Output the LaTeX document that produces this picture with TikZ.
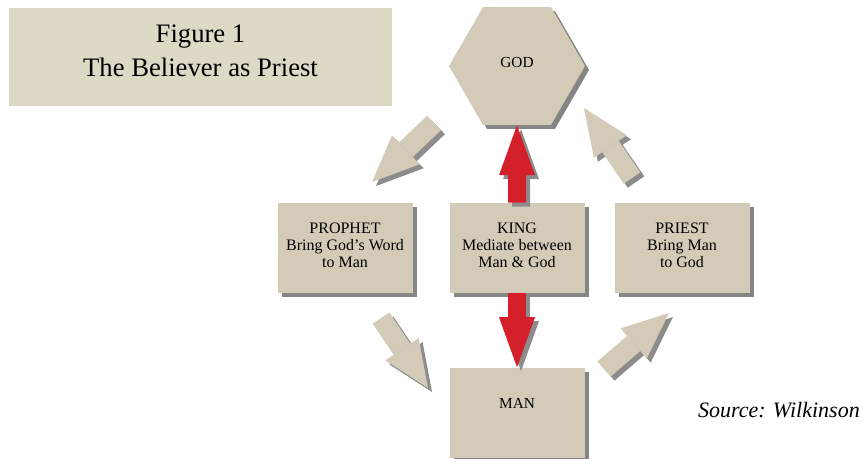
\documentclass[tikz,border=0pt]{standalone}
\usepackage{fontspec}
\setmainfont{Liberation Serif}
\usetikzlibrary{shapes.geometric,shadows,arrows.meta}

\definecolor{boxtan}{RGB}{211,203,184}
\definecolor{titletan}{RGB}{221,217,197}
\definecolor{arrowred}{RGB}{211,32,42}

\begin{document}
\begin{tikzpicture}[x=0.75pt,y=0.75pt,yscale=-1,xscale=1,
	office/.style={fill=boxtan, minimum width=101.25pt, minimum height=67.5pt, inner sep=0pt, align=center, text depth=4pt, font=\fontsize{12}{12.75}\selectfont, drop shadow={shadow xshift=3pt, shadow yshift=-3pt, opacity=0.6, fill=black!80}},
	tanarrow/.style={draw=boxtan, line width=15pt, -{Triangle[length=35pt, width=30pt, line width=0pt]}},
	kingarrow/.style={draw=arrowred, line width=13.5pt, -{Triangle[length=37.5pt, width=27pt, line width=0pt]}},
	shadowarrow/.style={draw=black!45}
	]
	\useasboundingbox (0,0) rectangle (866,458);

	% Title
	\node (title) [fill=titletan, minimum width=287.25pt, minimum height=73.5pt, inner sep=0pt, align=center, text depth=9pt, font=\fontsize{20}{25.5}\selectfont] at (200.5,57) {Figure 1\\The Believer as Priest};
	% Text Node
	\node (god) [office, regular polygon, regular polygon sides=6, minimum size=102pt, text depth=6pt, font=\fontsize{11.5}{12.75}\selectfont] at (517,66) {GOD};
	% Text Node
	\node (prophet) [office] at (345,248) {PROPHET\\Bring God’s Word\\to Man};
	% Text Node
	\node (king) [office] at (517,248) {KING\\Mediate between\\Man \& God};
	% Text Node
	\node (priest) [office] at (682,248) {PRIEST\\Bring Man\\to God};
	% Text Node
	\node (man) [office, text depth=14pt, font=\fontsize{11.5}{12.75}\selectfont] at (517,412.5) {MAN};
	% Text Node
	\node (source) [anchor=base east, inner sep=0pt, font=\fontsize{16.5}{20}\selectfont\itshape] at (860,417) {Source: Wilkinson};

	% ends of the grey arrows
	\coordinate (g2p-from) at (434,123);
	\coordinate (g2p-to) at (372,182);
	\coordinate (p2m-from) at (381,318);
	\coordinate (p2m-to) at (428,388);
	\coordinate (m2p-from) at (604,369);
	\coordinate (m2p-to) at (669,313);
	\coordinate (p2g-from) at (632,178);
	\coordinate (p2g-to) at (584,108);

	% Shadows
	\begin{scope}[transform canvas={xshift=3pt,yshift=-3pt}]
	\foreach \a/\b in {g2p-from/g2p-to, p2m-from/p2m-to, m2p-from/m2p-to, p2g-from/p2g-to}
		\draw [tanarrow, shadowarrow] (\a) -- (\b);
	\draw [kingarrow, shadowarrow] (king.north) -- (god.south);
	\draw [kingarrow, shadowarrow] (king.south) -- (man.north);
	\end{scope}

	% Connection
	\foreach \a/\b in {g2p-from/g2p-to, p2m-from/p2m-to, m2p-from/m2p-to, p2g-from/p2g-to}
		\draw [tanarrow] (\a) -- (\b);
	% Connection
	\draw [kingarrow] (king.north) -- (god.south);
	% Connection
	\draw [kingarrow] (king.south) -- (man.north);

\end{tikzpicture}
\end{document}
